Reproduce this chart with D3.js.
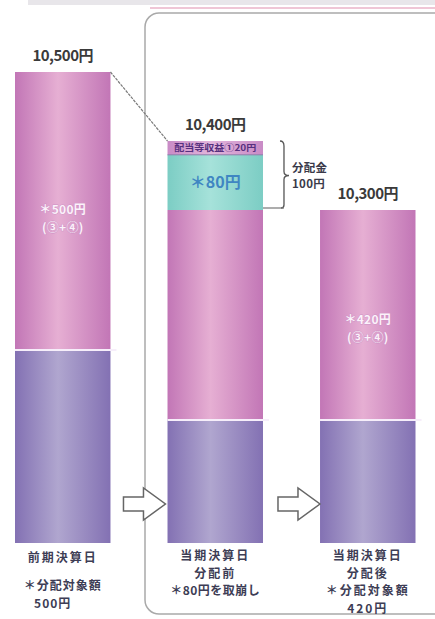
<!DOCTYPE html>
<html><head><meta charset="utf-8">
<script src="https://cdn.jsdelivr.net/npm/d3@7/dist/d3.min.js"></script>
<style>
html,body{margin:0;padding:0;background:#fff;}
svg{display:block;}
text{font-family:"Noto Sans CJK JP","Noto Sans",sans-serif;}
</style></head>
<body>
<svg id="chart" width="435" height="619"></svg>
<script>
// ---- data ----
const categories = ["前期決算日", "当期決算日分配前", "当期決算日分配後"];
const baseValues = [10000, 9880, 9880];       // 元本部分
const distributable = [500, 420, 420];        // ③+④ 分配対象額
const drawdown = [0, 80, 0];                  // ＊80円 取崩し
const dividendIncome = [0, 20, 0];            // 配当等収益① 20円
const totals = [10500, 10400, 10300];
const totalLabels = ["10,500円", "10,400円", "10,300円"];
const innerLabels = [["＊500円", "(③+④)"], null, ["＊420円", "(③+④)"]];
const bottomLabels = [
  ["前期決算日"],
  ["当期決算日", "分配前", "＊80円を取崩し"],
  ["当期決算日", "分配後", "＊分配対象額", "420円"]
];
const bottomExtra = ["＊分配対象額", "500円"];
const distributionLabel = ["分配金", "100円"];
const keys = ["base", "dist", "draw", "div"];

const table = categories.map((c, i) => ({
  cat: c, base: baseValues[i], dist: distributable[i], draw: drawdown[i], div: dividendIncome[i]
}));

const svg = d3.select("#chart");

// schematic (truncated) value axis
const y = d3.scaleLinear()
  .domain([0, 9880, 10000, 10300, 10500])
  .range([543, 420, 350, 210, 72]);
const x = d3.scaleBand().domain(categories).range([15, 415.5]).paddingInner(0.374).paddingOuter(0);
const bw = x.bandwidth();

// gradients
const defs = svg.append("defs");
function grad(id, edge, mid) {
  const g = defs.append("linearGradient").attr("id", id).attr("x1", "0").attr("x2", "1").attr("y1", "0").attr("y2", "0");
  g.append("stop").attr("offset", "0").attr("stop-color", edge);
  g.append("stop").attr("offset", "0.45").attr("stop-color", mid);
  g.append("stop").attr("offset", "1").attr("stop-color", edge);
}
grad("g-base", "#8371b3", "#b0a6cf");
grad("g-dist", "#c276b6", "#e6afd3");
grad("g-draw", "#7ccdc4", "#a6e2da");
grad("g-div", "#c98bc6", "#e2b6dc");
const fills = {base: "url(#g-base)", dist: "url(#g-dist)", draw: "url(#g-draw)", div: "url(#g-div)"};

// top faint header strip
svg.append("rect").attr("x", 28).attr("y", 0).attr("width", 407).attr("height", 5).attr("fill", "#d9d6dc").attr("opacity", 0.6);
svg.append("line").attr("x1", 150).attr("x2", 435).attr("y1", 8).attr("y2", 8).attr("stroke", "#efc6d6").attr("stroke-width", 2);

// frame
svg.append("rect").attr("x", 145).attr("y", 13).attr("width", 330).attr("height", 601).attr("rx", 14)
  .attr("fill", "none").attr("stroke", "#a9a9a9").attr("stroke-width", 1.5);

// stacks
const series = d3.stack().keys(keys)(table);
const g = svg.append("g");
series.forEach(s => {
  g.selectAll(null).data(s.filter(d => d[1] > d[0])).join("rect")
    .attr("x", d => x(d.data.cat))
    .attr("width", bw)
    .attr("y", d => y(d[1]))
    .attr("height", d => y(d[0]) - y(d[1]))
    .attr("fill", fills[s.key]);
});

// divider lines between base and distributable
table.forEach(d => {
  svg.append("line").attr("x1", x(d.cat)).attr("x2", x(d.cat) + bw + 6)
    .attr("y1", y(d.base)).attr("y2", y(d.base))
    .attr("stroke", "#f6eefa").attr("stroke-width", 2);
});
// thin line under the 20円 band
svg.append("line").attr("x1", x(categories[1])).attr("x2", x(categories[1]) + bw)
  .attr("y1", y(totals[1] - dividendIncome[1])).attr("y2", y(totals[1] - dividendIncome[1]))
  .attr("stroke", "#8c7aa8").attr("stroke-width", 1);

// connector line from previous top to current top
svg.append("line")
  .attr("x1", x(categories[0]) + bw).attr("y1", y(totals[0]))
  .attr("x2", x(categories[1])).attr("y2", y(totals[1]))
  .attr("stroke", "#7a7a7a").attr("stroke-width", 1.2).attr("stroke-dasharray", "3,1");

// total labels
svg.selectAll(".tot").data(table).join("text")
  .attr("x", d => x(d.cat) + bw / 2)
  .attr("y", (d, i) => y(totals[i]) - 11)
  .attr("text-anchor", "middle")
  .attr("font-size", 15).attr("font-weight", 600).attr("fill", "#3a3a3a")
  .attr("letter-spacing", "-0.5")
  .text((d, i) => totalLabels[i]);

// inner labels (③+④)
table.forEach((d, i) => {
  const lab = innerLabels[i];
  if (!lab) return;
  const cy = (y(d.base) + y(d.base + d.dist)) / 2 + (i === 0 ? 3 : 9);
  lab.forEach((t, k) => {
    svg.append("text").attr("x", x(d.cat) + bw / 2).attr("y", cy + k * 17.6)
      .attr("text-anchor", "middle").attr("font-size", 12).attr("font-weight", 700)
      .attr("fill", "#fbf2fa").attr("stroke", "#cf92c6").attr("stroke-width", 0.8)
      .attr("paint-order", "stroke").attr("letter-spacing", "0.3").text(t);
  });
});

// teal label
const c1 = categories[1];
svg.append("text").attr("x", x(c1) + bw / 2)
  .attr("y", (y(totals[1] - dividendIncome[1]) + y(totals[1] - dividendIncome[1] - drawdown[1])) / 2 + 6)
  .attr("text-anchor", "middle").attr("font-size", 16).attr("font-weight", 600)
  .attr("fill", "#3f86c2").text("＊" + drawdown[1] + "円");
// tiny band label
svg.append("text").attr("x", x(c1) + bw / 2)
  .attr("y", (y(totals[1]) + y(totals[1] - dividendIncome[1])) / 2 + 3.5)
  .attr("text-anchor", "middle").attr("font-size", 9).attr("font-weight", 700)
  .attr("fill", "#56307e").attr("textLength", 82).attr("lengthAdjust", "spacingAndGlyphs")
  .text("配当等収益①" + dividendIncome[1] + "円");

// brace for distribution
const bx = x(c1) + bw + 21;
const yt = y(totals[1]), yb = y(totals[2]), ym = (yt + yb) / 2;
const p = d3.path();
p.moveTo(bx - 4, yt);
p.quadraticCurveTo(bx, yt, bx, yt + 5);
p.lineTo(bx, ym - 4);
p.quadraticCurveTo(bx, ym, bx + 5, ym);
p.quadraticCurveTo(bx, ym, bx, ym + 4);
p.lineTo(bx, yb - 5);
p.quadraticCurveTo(bx, yb - 2, bx - 3, yb - 2);
svg.append("path").attr("d", p.toString()).attr("fill", "none").attr("stroke", "#555").attr("stroke-width", 1.3);
svg.append("line").attr("x1", x(c1) + bw).attr("x2", bx).attr("y1", yb - 2).attr("y2", yb - 2)
  .attr("stroke", "#777").attr("stroke-width", 1.2);
distributionLabel.forEach((t, k) => {
  svg.append("text").attr("x", bx + 8).attr("y", ym - 4 + k * 16.8)
    .attr("font-size", 11.5).attr("font-weight", 700).attr("fill", "#3a3a4a").attr("letter-spacing", "0.3").text(t);
});

// block arrows
function arrow(x0) {
  const a = d3.path();
  const yc = 504;
  a.moveTo(x0, yc - 7); a.lineTo(x0 + 20, yc - 7); a.lineTo(x0 + 20, yc - 16);
  a.lineTo(x0 + 42, yc); a.lineTo(x0 + 20, yc + 16); a.lineTo(x0 + 20, yc + 7);
  a.lineTo(x0, yc + 7); a.closePath();
  svg.append("path").attr("d", a.toString()).attr("fill", "#fff").attr("stroke", "#666").attr("stroke-width", 1.5);
}
arrow(x(categories[0]) + bw + 13);
arrow(x(categories[1]) + bw + 15);

// bottom labels
bottomLabels.forEach((lines, i) => {
  lines.forEach((t, k) => {
    svg.append("text").attr("x", x(categories[i]) + bw / 2).attr("y", 560 + k * 17.6 + (i === 0 ? 2 : 0))
      .attr("text-anchor", "middle").attr("font-size", 12).attr("font-weight", 700)
      .attr("letter-spacing", k === 2 && i === 1 ? "0.5" : "2")
      .attr("fill", "#3d3d55").text(t);
  });
});
bottomExtra.forEach((t, k) => {
  svg.append("text").attr("x", x(categories[0]) + bw / 2 - (k ? 10 : 0)).attr("y", 590 + k * 17.6)
    .attr("text-anchor", "middle").attr("font-size", 12).attr("font-weight", 700)
    .attr("letter-spacing", "1")
    .attr("fill", "#3d3d55").text(t);
});
</script>
</body></html>
